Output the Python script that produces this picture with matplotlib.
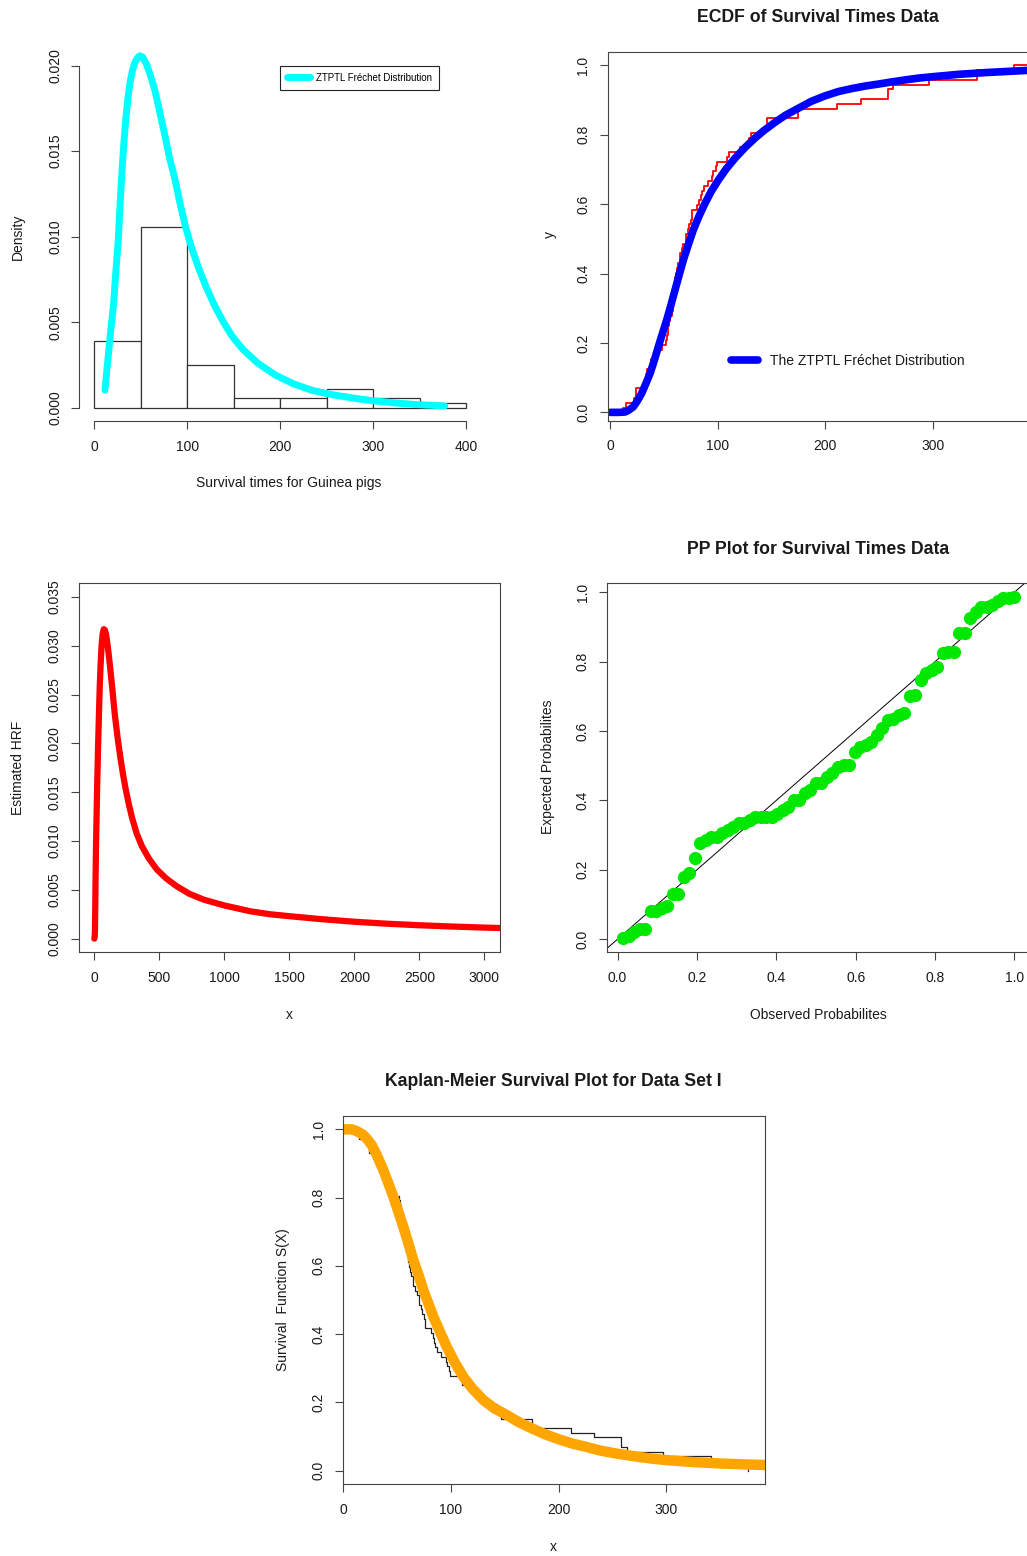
import matplotlib
matplotlib.use("Agg")
import matplotlib.pyplot as plt
import numpy as np
from matplotlib.ticker import FormatStrFormatter

plt.rcParams['font.family'] = ['Liberation Sans', 'DejaVu Sans']

W, H = 1027, 1556
TXT = "#1a1a1a"
AXC = "#444444"

# ---------------------------------------------------------------- data
# survival times of guinea pigs (72 obs), as read off the histogram / step plots
survival_times = [12, 15, 22, 24, 24, 32, 32, 33, 34, 38, 38, 43, 44, 48, 52, 53,
                  54, 54, 55, 56, 57, 58, 58, 59, 60, 60, 60, 60, 61, 62, 63, 65,
                  65, 67, 68, 70, 70, 72, 73, 75, 76, 76, 81, 83, 84, 85, 87, 91,
                  95, 96, 98, 99, 109, 110, 121, 127, 129, 131, 143, 146, 146, 175,
                  175, 211, 233, 258, 258, 263, 297, 341, 341, 376]
hist_bins = [0, 50, 100, 150, 200, 250, 300, 350, 400]

# fitted ZTPTL Frechet density
dens_x = [11.5, 13, 15, 17.5, 20.5, 23, 25.8, 28, 30, 32, 34, 36, 38.4, 41, 43.8,
          46.5, 49, 52, 56, 60, 65, 70, 76, 81, 87, 92, 98, 105, 112, 120, 130,
          139, 148, 160, 176, 195, 214, 235, 257, 280, 300, 325, 347, 377]
dens_y = [0.00103, 0.0019, 0.0030, 0.0044, 0.0059, 0.0078, 0.0098, 0.0121, 0.0140,
          0.0156, 0.0169, 0.0180, 0.0190, 0.0197, 0.0202, 0.02045, 0.02057, 0.0205,
          0.0201, 0.0195, 0.0186, 0.0174, 0.0159, 0.0146, 0.0133, 0.0120, 0.0106,
          0.0093, 0.0082, 0.0071, 0.0059, 0.0050, 0.0042, 0.0034, 0.0026, 0.0019,
          0.0014, 0.0010, 0.00075, 0.00055, 0.00040, 0.00027, 0.00018, 0.00010]

# fitted cdf
cdf_x = [0, 8, 13.7, 17, 21.4, 25, 29.2, 33, 37, 41, 44.7, 48.5, 52.5, 56.5, 60.2,
         64, 68, 72.5, 77.2, 82.5, 88.1, 94, 100.5, 108, 116, 125, 134.6, 143, 153,
         163, 175, 187, 200, 212, 225, 237, 250, 262, 275, 287, 300, 325, 350, 375,
         400]
cdf_y = [0.0, 0.0, 0.001, 0.006, 0.016, 0.032, 0.055, 0.082, 0.112, 0.15, 0.189,
         0.227, 0.266, 0.31, 0.352, 0.395, 0.439, 0.482, 0.525, 0.565, 0.602, 0.637,
         0.669, 0.702, 0.732, 0.762, 0.79, 0.812, 0.835, 0.856, 0.876, 0.896, 0.912,
         0.924, 0.933, 0.940, 0.946, 0.952, 0.958, 0.963, 0.967, 0.974, 0.979,
         0.983, 0.987]

# estimated hazard rate function
hrf_x = [0, 3, 5, 8, 10, 13, 18, 23, 29, 36, 42, 49, 56, 64, 73, 82, 91, 100, 110,
         120, 130, 140, 150, 160, 180, 200, 220, 240, 265, 290, 325, 365, 420, 480,
         550, 630, 730, 840, 1000, 1200, 1350, 1500, 1750, 2000, 2250, 2500, 2750,
         3000, 3200]
hrf_y = [0.0, 0.0002, 0.0008, 0.004, 0.0065, 0.0094, 0.013, 0.0162, 0.0197, 0.0231,
         0.0259, 0.0282, 0.0300, 0.0312, 0.0317, 0.0316, 0.0311, 0.0303, 0.0292,
         0.0280, 0.0267, 0.0254, 0.0240, 0.0227, 0.0205, 0.0186, 0.0169, 0.0154,
         0.0138, 0.0124, 0.0108, 0.0095, 0.0082, 0.0071, 0.0062, 0.0054, 0.0046,
         0.0040, 0.0034, 0.0028, 0.0025, 0.0023, 0.00199, 0.00173, 0.00153, 0.00137,
         0.00124, 0.00113, 0.00106]

# PP plot: expected probabilities for the sorted observations
pp_expected = [0.003, 0.008, 0.02, 0.03, 0.03, 0.082, 0.082, 0.09, 0.096, 0.13,
               0.13, 0.18, 0.19, 0.233, 0.276, 0.286, 0.295, 0.295, 0.305, 0.314,
               0.324, 0.334, 0.334, 0.343, 0.353, 0.353, 0.353, 0.353, 0.362, 0.372,
               0.382, 0.40, 0.40, 0.42, 0.43, 0.449, 0.449, 0.468, 0.478, 0.495,
               0.502, 0.502, 0.54, 0.555, 0.56, 0.569, 0.588, 0.61, 0.632, 0.636,
               0.646, 0.651, 0.70, 0.704, 0.747, 0.766, 0.776, 0.786, 0.824, 0.829,
               0.829, 0.882, 0.882, 0.925, 0.944, 0.959, 0.959, 0.962, 0.975, 0.983,
               0.983, 0.987]

# fitted survival function
surv_x = [0, 3, 8, 12.4, 18, 22, 26.4, 31, 37.1, 41.5, 46.4, 51, 55.7, 60.5, 65, 70,
          74.3, 79, 83.6, 90, 96, 103, 111.4, 120, 130, 140, 151.7, 163, 175, 187,
          200, 212, 225, 237, 250, 262, 275, 287, 300, 325, 350, 375, 400]
surv_y = [1.0, 1.0, 1.0, 0.995, 0.985, 0.972, 0.954, 0.925, 0.881, 0.845, 0.803,
          0.76, 0.715, 0.665, 0.617, 0.572, 0.529, 0.49, 0.451, 0.405, 0.363, 0.32,
          0.275, 0.24, 0.207, 0.183, 0.163, 0.142, 0.124, 0.107, 0.092, 0.08, 0.07,
          0.06, 0.052, 0.046, 0.04, 0.035, 0.031, 0.025, 0.021, 0.018, 0.016]

# ---------------------------------------------------------------- helpers
fig = plt.figure(figsize=(W / 100, H / 100), dpi=100)


def panel(x0, y0, x1, y1):
    return fig.add_axes([x0 / W, 1 - y1 / H, (x1 - x0) / W, (y1 - y0) / H])


def label(x, y, s, rot=0, size=10, weight="normal"):
    fig.text(x / W, 1 - y / H, s, rotation=rot, ha="center", va="center",
             fontsize=size, fontweight=weight, color=TXT)


def style(ax, xticks, yticks, yfmt, xfmt="%d"):
    ax.set_xticks(xticks)
    ax.set_yticks(yticks)
    ax.xaxis.set_major_formatter(FormatStrFormatter(xfmt))
    ax.yaxis.set_major_formatter(FormatStrFormatter(yfmt))
    ax.tick_params(length=6, width=0.8, color=AXC, labelsize=10, labelcolor=TXT)
    ax.tick_params(axis="x", pad=7.5)
    ax.tick_params(axis="y", pad=6.5, labelrotation=90)
    for lab in ax.get_yticklabels():
        lab.set_va("center")
    for sp in ax.spines.values():
        sp.set_color(AXC)
        sp.set_linewidth(0.8)


curve_kw = dict(solid_capstyle="round", solid_joinstyle="round")

times = np.sort(np.array(survival_times))
n = len(times)

# ---------------------------------------------------------------- 1: histogram
ax = panel(79.4, 41, 481, 421)
ax.hist(times, bins=hist_bins, density=True, facecolor="white",
        edgecolor="#333333", linewidth=0.9)
ax.plot(dens_x, dens_y, color="cyan", lw=5, label="ZTPTL Fréchet Distribution",
        **curve_kw)
ax.set_xlim(-16, 416)
ax.set_ylim(-0.00078, 0.02144)
style(ax, [0, 100, 200, 300, 400], [0, 0.005, 0.01, 0.015, 0.02], "%.3f")
ax.spines["top"].set_visible(False)
ax.spines["right"].set_visible(False)
ax.spines["left"].set_bounds(0, 0.02)
ax.spines["bottom"].set_bounds(0, 400)
leg = ax.legend(loc="upper left", bbox_to_anchor=(280 / W, 1 - 66 / H),
                bbox_transform=fig.transFigure, borderaxespad=0, fontsize=7,
                fancybox=False, edgecolor="#222222", framealpha=1,
                handlelength=2.4, handletextpad=0.6, borderpad=0.7)
leg.get_frame().set_linewidth(0.8)
label(289, 483, "Survival times for Guinea pigs")
label(18, 237, "Density", rot=90)

# ---------------------------------------------------------------- 2: ECDF
ax = panel(607.7, 51.7, 1029, 420.7)
step_x = np.concatenate([[-10], times, [500]])
step_y = np.concatenate([[0], np.arange(1, n + 1) / n, [1]])
ax.step(step_x, step_y, where="post", color="red", lw=1.3)
ax.plot(cdf_x, cdf_y, color="blue", lw=5.5, label="The ZTPTL Fréchet Distribution",
        **curve_kw)
ax.set_xlim(-2.4, 389.6)
ax.set_ylim(-0.024, 1.039)
style(ax, [0, 100, 200, 300], [0, 0.2, 0.4, 0.6, 0.8, 1.0], "%.1f")
ax.legend(loc="center left", bbox_to_anchor=(727 / W, 1 - 361 / H),
          bbox_transform=fig.transFigure, borderaxespad=0, frameon=False,
          fontsize=10, handlelength=1.9, handletextpad=0.9, borderpad=0.3,
          labelcolor=TXT)
label(818, 17, "ECDF of Survival Times Data", size=12.7, weight="bold")
label(550, 235, "y", rot=90)

# ---------------------------------------------------------------- 3: HRF
ax = panel(78.7, 583.3, 500, 952.3)
ax.plot(hrf_x, hrf_y, color="red", lw=4.5, **curve_kw)
ax.set_xlim(-120, 3120)
ax.set_ylim(-0.0014, 0.0364)
style(ax, [0, 500, 1000, 1500, 2000, 2500, 3000],
      [0, 0.005, 0.01, 0.015, 0.02, 0.025, 0.03, 0.035], "%.3f")
label(18, 768, "Estimated HRF", rot=90)
label(289, 1015, "x")

# ---------------------------------------------------------------- 4: PP plot
ax = panel(607.3, 583.3, 1029, 952.3)
observed = np.arange(1, n + 1) / n
ax.axline((0, 0), (1, 1), color="black", lw=0.7)
ax.plot(observed, pp_expected, "o", color="#00e800", ms=9.5, mec="none")
ax.set_xlim(-0.026, 1.037)
ax.set_ylim(-0.038, 1.026)
style(ax, [0, 0.2, 0.4, 0.6, 0.8, 1.0], [0, 0.2, 0.4, 0.6, 0.8, 1.0], "%.1f",
      xfmt="%.1f")
label(818, 549, "PP Plot for Survival Times Data", size=12.7, weight="bold")
label(548, 767, "Expected Probabilites", rot=90)
label(818, 1015, "Observed Probabilites")

# ---------------------------------------------------------------- 5: Kaplan-Meier
ax = panel(343.3, 1115.7, 765, 1484.3)
km_x = np.concatenate([[0], times])
km_y = np.concatenate([[1], 1 - np.arange(1, n + 1) / n])
ax.step(km_x, km_y, where="post", color="#222222", lw=0.9)
ax.plot(surv_x, surv_y, color="orange", lw=7.5, **curve_kw)
ax.set_xlim(0, 391.5)
ax.set_ylim(-0.04, 1.04)
style(ax, [0, 100, 200, 300], [0, 0.2, 0.4, 0.6, 0.8, 1.0], "%.1f")
label(553, 1081, "Kaplan-Meier Survival Plot for Data Set I", size=12.7, weight="bold")
label(283, 1300, "Survival  Function S(X)", rot=90)
label(553, 1547, "x")

fig.savefig("out.png", dpi=100)
